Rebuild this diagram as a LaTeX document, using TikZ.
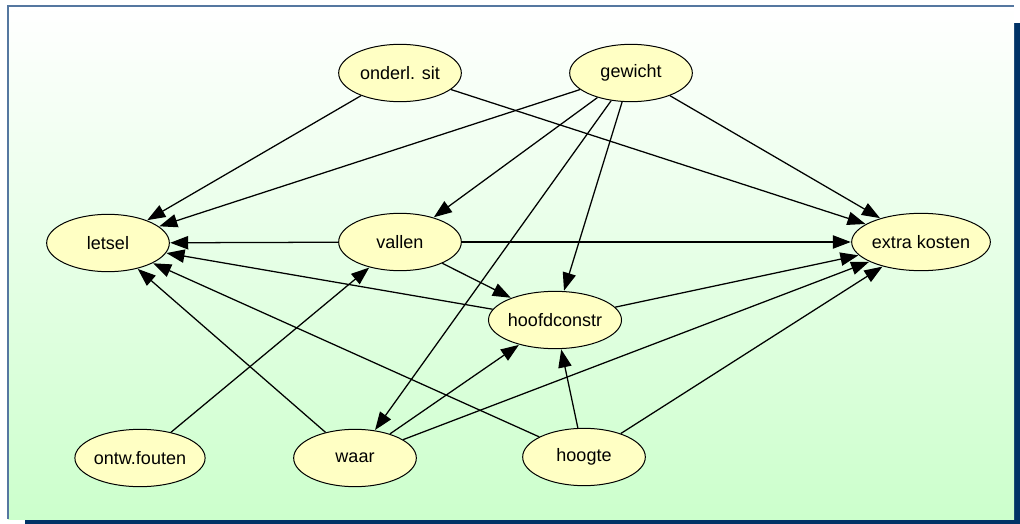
\documentclass[tikz,border=0pt]{standalone}
\usepackage{fontspec}
\setmainfont{Liberation Sans}
\usetikzlibrary{shapes.geometric,arrows.meta}
\definecolor{shadowblue}{HTML}{003366}
\definecolor{framegray}{HTML}{5577A0}
\definecolor{panelgreen}{HTML}{CCFFCC}
\definecolor{nodefill}{HTML}{FFFFC4}
\tikzset{
  var/.style={ellipse, draw=black, line width=0.75pt, fill=nodefill,
    minimum width=92pt, minimum height=43pt, inner sep=0pt,
    font=\fontsize{13.5}{16}\selectfont},
  link/.style={draw=black, line width=0.95pt,
    -{Triangle[length=13.5pt,width=10pt]}, shorten >=0.3pt}
}
\begin{document}
\begin{tikzpicture}[x=0.75pt,y=-0.75pt]
  \useasboundingbox (0,0) rectangle (1020,524);
  % panel with drop shadow
  \fill[shadowblue] (25,23) rectangle (1020,524);
  \shade[top color=white, bottom color=panelgreen] (8,6) rectangle (1014,519);
  \draw[framegray, line width=1.5pt] (8,519) -- (8,6) -- (1014,6);

  % variables
  \node[var] (onderl) at (400,73)  {onderl. sit};
  \node[var] (gewicht) at (631,73) {gewicht};
  \node[var] (letsel) at (108,243) {letsel};
  \node[var] (vallen) at (400,242) {vallen};
  \node[var] (extra) at (921,242)  {extra kosten};
  \node[var, minimum width=94pt] (hoofd) at (555,320) {hoofdconstr};
  \node[var] (ontw) at (140,458)   {ontw.fouten};
  \node[var] (waar) at (355,458)   {waar};
  \node[var] (hoogte) at (584,457) {hoogte};

  % dependencies
  \draw[link] (onderl) -- (letsel);
  \draw[link] (onderl) -- (extra);
  \draw[link] (gewicht) -- (letsel);
  \draw[link] (gewicht) -- (vallen);
  \draw[link] (gewicht) -- (waar);
  \draw[link] (gewicht) -- (hoofd);
  \draw[link] (gewicht) -- (extra);
  \draw[link] (vallen) -- (letsel);
  \draw[link] (vallen) -- (extra);
  \draw[link] (vallen) -- (hoofd);
  \draw[link] (hoofd) -- (letsel);
  \draw[link] (hoofd) -- (extra);
  \draw[link] (ontw) -- (vallen);
  \draw[link] (waar) -- (letsel);
  \draw[link] (waar) -- (hoofd);
  \draw[link] (waar) -- (extra);
  \draw[link] (hoogte) -- (letsel);
  \draw[link] (hoogte) -- (hoofd);
  \draw[link] (hoogte) -- (extra);
\end{tikzpicture}
\end{document}
